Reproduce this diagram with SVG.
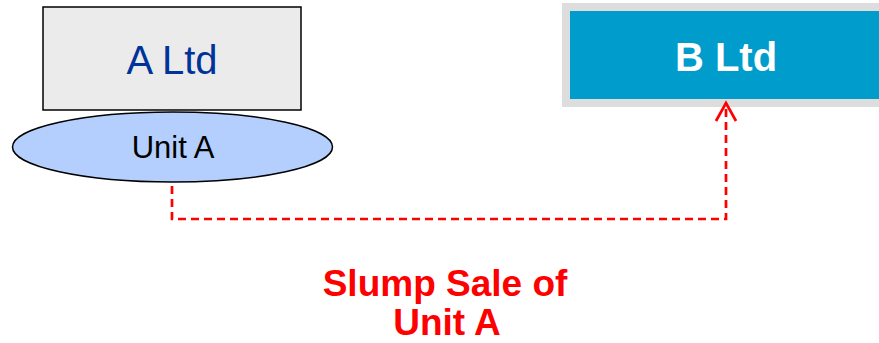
<svg xmlns="http://www.w3.org/2000/svg" width="879" height="343" viewBox="0 0 879 343">
<style>
text{font-family:"Liberation Sans",Arial,sans-serif;text-anchor:middle}
.conn{fill:none;stroke:#ff0000;stroke-width:2.7;stroke-dasharray:8 5}
.lbl{font-size:37px;font-weight:bold;fill:#ff0000}
</style>
<defs>
<marker id="open" viewBox="0 0 24 24" refX="21" refY="12" markerWidth="24" markerHeight="24" markerUnits="userSpaceOnUse" orient="auto">
<path d="M3,2 L21,12 L3,22" fill="none" stroke="#ff0000" stroke-width="2.7"/>
</marker>
</defs>
<rect width="879" height="343" fill="#ffffff"/>
<g id="a-ltd">
<rect x="43" y="7" width="258" height="103" fill="#ebebeb" stroke="#000" stroke-width="1.5"/>
<text x="172" y="74" font-size="40" fill="#003399">A Ltd</text>
</g>
<g id="unit-a">
<ellipse cx="172.5" cy="147" rx="160" ry="35" fill="#b4cffd" stroke="#000" stroke-width="1.5"/>
<text x="173" y="158" font-size="31" fill="#000">Unit A</text>
</g>
<g id="b-ltd">
<rect x="562" y="3" width="317" height="104" fill="#dddddd"/>
<rect x="570" y="11" width="309" height="88" fill="#009ccc"/>
<text x="726" y="71" font-size="40" font-weight="bold" fill="#ffffff">B Ltd</text>
</g>
<g id="connectors">
<path class="conn" d="M172,186 V219 H726 V103" marker-end="url(#open)"/>
</g>
<g id="label">
<text class="lbl" x="445" y="296">Slump Sale of</text>
<text class="lbl" x="447" y="335">Unit A</text>
</g>
</svg>
